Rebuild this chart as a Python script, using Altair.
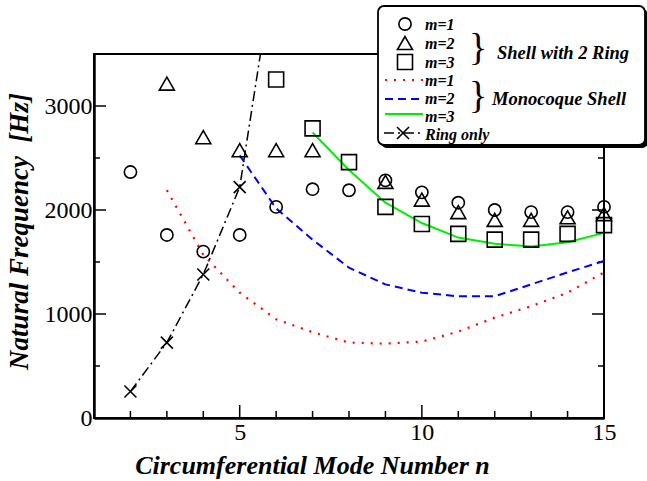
import altair as alt
import pandas as pd

# ---------------- data ----------------
n_ring2_m1 = [2, 3, 4, 5, 6, 7, 8, 9, 10, 11, 12, 13, 14, 15]
f_ring2_m1 = [2365, 1760, 1600, 1760, 2030, 2200, 2190, 2285, 2170, 2070, 2000, 1980, 1980, 2030]

n_ring2_m2 = [3, 4, 5, 6, 7, 9, 10, 11, 12, 13, 14, 15]
f_ring2_m2 = [3215, 2700, 2575, 2575, 2575, 2270, 2100, 1980, 1905, 1905, 1930, 1960]

n_ring2_m3 = [6, 7, 8, 9, 10, 11, 12, 13, 14, 15]
f_ring2_m3 = [3255, 2785, 2460, 2030, 1865, 1770, 1715, 1715, 1770, 1855]

n_mono_m1 = [3, 4, 5, 6, 7, 8, 9, 10, 11, 12, 13, 14, 15]
f_mono_m1 = [2190, 1570, 1205, 950, 825, 725, 715, 735, 830, 965, 1075, 1205, 1400]

n_mono_m2 = [5, 6, 7, 8, 9, 10, 11, 12, 13, 14, 15]
f_mono_m2 = [2525, 2015, 1715, 1445, 1285, 1205, 1170, 1170, 1285, 1400, 1510]

n_mono_m3 = [7, 8, 9, 10, 11, 12, 13, 14, 15]
f_mono_m3 = [2745, 2385, 2070, 1875, 1735, 1675, 1650, 1690, 1780]

n_ring_only = [2, 3, 4, 5, 6]
f_ring_only = [255, 725, 1380, 2220, 4470]

x_label_values = [5, 10, 15]
y_label_values = [0, 1000, 2000, 3000]
x_minor_ticks = [2, 3, 4, 6, 7, 8, 9, 11, 12, 13, 14]
x_major_ticks = [5, 10]
y_major_ticks = [1000, 2000, 3000]
y_minor_ticks = [500, 1500, 2500]

legend_symbol_labels = ["m=1", "m=2", "m=3"]
legend_line_labels = ["m=1", "m=2", "m=3"]
group_labels = ["Shell with 2 Ring", "Monocoque Shell"]
ring_label = "Ring only"

# ---------------- layout ----------------
W, H = 510, 364
FONT = "Liberation Serif"
X_PATH = "M-1,-1L1,1M-1,1L1,-1"

xs = alt.Scale(domain=[1, 15], nice=False, zero=False)
ys = alt.Scale(domain=[0, 3500], nice=False, zero=False)

x_axis = alt.Axis(
    values=x_label_values, ticks=False, grid=False, domainWidth=2.5, domainColor="black",
    labelFont=FONT, labelFontSize=24, labelColor="black", labelPadding=2, labelFlush=False,
    title="Circumferential Mode Number n", titleFont=FONT, titleFontSize=26,
    titleFontStyle="italic", titleFontWeight="bold", titleColor="black",
    titleX=218, titleY=55, titleAlign="center", titleBaseline="alphabetic",
)
y_axis = alt.Axis(
    values=y_label_values, ticks=False, grid=False, domainWidth=2.5, domainColor="black",
    labelFont=FONT, labelFontSize=24, labelColor="black", labelPadding=2, format="d",
    labelFlush=False,
    title="Natural Frequency\u00a0 [Hz]", titleFont=FONT, titleFontSize=27,
    titleFontStyle="italic", titleFontWeight="bold", titleColor="black",
    titleX=-67, titleY=177, titleAngle=270, titleAlign="center", titleBaseline="alphabetic",
)


def df(n, f):
    return pd.DataFrame({"n": n, "f": f})


def X():
    return alt.X("n:Q", scale=xs, axis=x_axis)


def Y():
    return alt.Y("f:Q", scale=ys, axis=y_axis)


# ---------------- tick marks (inward) ----------------
ticks = []
t_major_y = pd.DataFrame({"f": y_major_ticks})
t_minor_y = pd.DataFrame({"f": y_minor_ticks})
t_major_x = pd.DataFrame({"n": x_major_ticks})
t_minor_x = pd.DataFrame({"n": x_minor_ticks})
for d, ln in [(t_major_y, 12), (t_minor_y, 6)]:
    ticks.append(alt.Chart(d).mark_rule(color="black", strokeWidth=1.5).encode(
        y=Y(), x=alt.value(0), x2=alt.value(ln)))
    ticks.append(alt.Chart(d).mark_rule(color="black", strokeWidth=1.5).encode(
        y=Y(), x=alt.value(W - ln), x2=alt.value(W)))
for d, ln in [(t_major_x, 13), (t_minor_x, 7)]:
    ticks.append(alt.Chart(d).mark_rule(color="black", strokeWidth=1.5).encode(
        x=X(), y=alt.value(H), y2=alt.value(H - ln)))

# ---------------- data layers ----------------
red = alt.Chart(df(n_mono_m1, f_mono_m1)).mark_line(
    color="#ff0000", strokeWidth=2.2, strokeDash=[2, 7]).encode(x=X(), y=Y())
blue = alt.Chart(df(n_mono_m2, f_mono_m2)).mark_line(
    color="#0000ff", strokeWidth=2, strokeDash=[8, 5]).encode(x=X(), y=Y())
green = alt.Chart(df(n_mono_m3, f_mono_m3)).mark_line(
    color="#00ee00", strokeWidth=2).encode(x=X(), y=Y())
ring_line = alt.Chart(df(n_ring_only, f_ring_only)).mark_line(
    color="black", strokeWidth=1.5, strokeDash=[10, 4, 2, 4], clip=True).encode(x=X(), y=Y())
ring_pts = alt.Chart(df(n_ring_only, f_ring_only)).mark_point(
    shape=X_PATH, size=144, color="black", strokeWidth=1.6, opacity=1, clip=True).encode(x=X(), y=Y())

circ = alt.Chart(df(n_ring2_m1, f_ring2_m1)).mark_point(
    shape="circle", size=150, filled=False, color="black", strokeWidth=1.6, opacity=1).encode(x=X(), y=Y())
tri = alt.Chart(df(n_ring2_m2, f_ring2_m2)).mark_point(
    shape="triangle-up", size=225, filled=False, color="black", strokeWidth=1.6, opacity=1).encode(x=X(), y=Y())
sq = alt.Chart(df(n_ring2_m3, f_ring2_m3)).mark_point(
    shape="square", size=225, filled=False, color="black", strokeWidth=1.6, opacity=1).encode(x=X(), y=Y())

# ---------------- legend ----------------
one = pd.DataFrame({"a": [0]})
lx0, lx1, ly0, ly1 = 284, 551, -48, 91
shadow = alt.Chart(one).mark_rect(fill="black", cornerRadius=6).encode(
    x=alt.value(lx0 + 3), x2=alt.value(lx1 + 3), y=alt.value(ly0 + 3), y2=alt.value(ly1 + 3))
box = alt.Chart(one).mark_rect(fill="white", stroke="black", strokeWidth=1.8, cornerRadius=6).encode(
    x=alt.value(lx0), x2=alt.value(lx1), y=alt.value(ly0), y2=alt.value(ly1))

sym_df = pd.DataFrame({"shape": ["circle", "triangle-up", "square"],
                       "px": [311, 311, 311], "py": [-30, -11, 8],
                       "size": [150, 225, 225]})
leg_syms = alt.Chart(sym_df).mark_point(filled=False, color="black", strokeWidth=1.6, opacity=1).encode(
    x=alt.X("px:Q", scale=None), y=alt.Y("py:Q", scale=None),
    shape=alt.Shape("shape:N", scale=None, legend=None),
    size=alt.Size("size:Q", scale=None, legend=None))

leg_red = alt.Chart(one).mark_rule(color="#ff0000", strokeWidth=2.2, strokeDash=[2, 7]).encode(
    x=alt.value(291), x2=alt.value(329), y=alt.value(26))
leg_blue = alt.Chart(one).mark_rule(color="#0000ff", strokeWidth=2, strokeDash=[8, 5]).encode(
    x=alt.value(291), x2=alt.value(329), y=alt.value(45))
leg_green = alt.Chart(one).mark_rule(color="#00ee00", strokeWidth=2).encode(
    x=alt.value(291), x2=alt.value(329), y=alt.value(60))
leg_ring = alt.Chart(one).mark_rule(color="black", strokeWidth=1.5, strokeDash=[10, 4, 2, 4]).encode(
    x=alt.value(290), x2=alt.value(329), y=alt.value(79))
leg_ring_pt = alt.Chart(one).mark_point(shape=X_PATH, size=144, color="black", strokeWidth=1.6,
                                        opacity=1).encode(x=alt.value(309), y=alt.value(79))

lab_df = pd.DataFrame({
    "t": legend_symbol_labels + legend_line_labels + [ring_label],
    "px": [331] * 7,
    "py": [-29, -10, 9, 27, 45, 63, 81],
})
leg_labels = alt.Chart(lab_df).mark_text(
    font=FONT, fontSize=16, fontStyle="italic", fontWeight="bold", align="left",
    baseline="middle", color="black").encode(
    x=alt.X("px:Q", scale=None), y=alt.Y("py:Q", scale=None), text="t:N")

brace_df = pd.DataFrame({"t": ["}", "}"], "px": [384, 384], "py": [-5, 43]})
braces = alt.Chart(brace_df).mark_text(
    font=FONT, fontSize=38, align="center", baseline="middle", color="black").encode(
    x=alt.X("px:Q", scale=None), y=alt.Y("py:Q", scale=None), text="t:N")

grp_df = pd.DataFrame({"t": group_labels, "px": [403, 398], "py": [-1, 45]})
groups = alt.Chart(grp_df).mark_text(
    font=FONT, fontSize=18.5, fontStyle="italic", fontWeight="bold", align="left",
    baseline="middle", color="black").encode(
    x=alt.X("px:Q", scale=None), y=alt.Y("py:Q", scale=None), text="t:N")

chart = alt.layer(
    *ticks, red, blue, green, ring_line, ring_pts, circ, tri, sq,
    shadow, box, leg_syms, leg_red, leg_blue, leg_green, leg_ring, leg_ring_pt,
    leg_labels, braces, groups,
).properties(
    width=W, height=H,
    padding={"left": 94, "top": 54, "right": 43, "bottom": 63},
    autosize=alt.AutoSizeParams(type="none"),
    background="white",
).configure_view(stroke="black", strokeWidth=2)

chart.save("out.html", embed_options={"renderer": "svg", "actions": False})
